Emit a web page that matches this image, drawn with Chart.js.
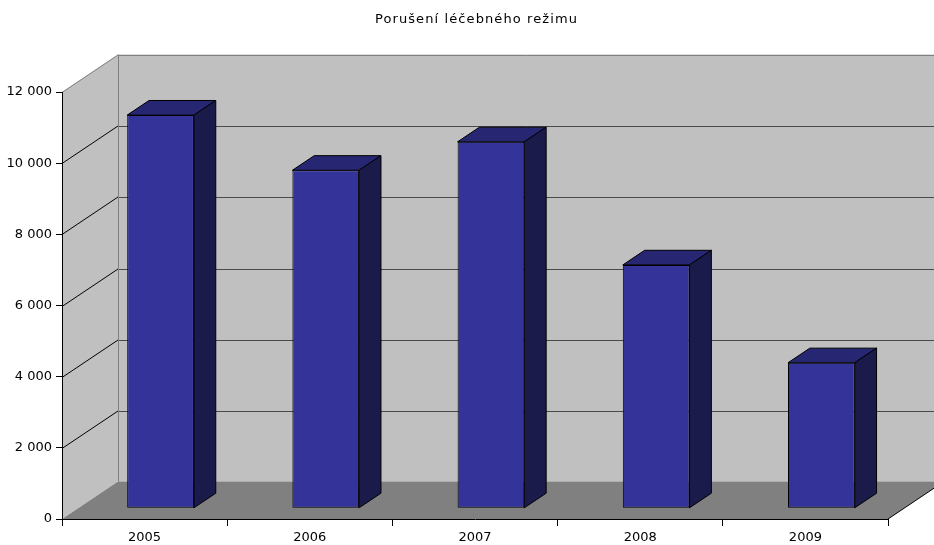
<!DOCTYPE html>
<html><head><meta charset="utf-8">
<script src="https://cdn.jsdelivr.net/npm/chart.js@4.4.1/dist/chart.umd.min.js"></script>
<style>html,body{margin:0;padding:0;background:#fff}#wrap{width:934px;height:545px;position:relative}</style>
</head><body><div id="wrap"><canvas id="c"></canvas></div>
<script>
const categories = ['2005', '2006', '2007', '2008', '2009'];
const values = [11050, 9500, 10300, 6840, 4090];
const yMin = 0;
const yMax = 12000;
const yStep = 2000;
const chartTitle = 'Porušení léčebného režimu';

// 3D look (pixel depth of the box and bar placement inside it)
const DEPTH_X = 56, DEPTH_Y = -37.5;
const BAR_FRONT = 0.285, BAR_DEPTH = 0.39;

function fmt(v) { return String(v).replace(/\B(?=(\d{3})+(?!\d))/g, ' '); }

const box3d = {
  id: 'box3d',
  afterLayout(chart) {
    const t = chart.titleBlock;
    if (t) {
      t.left = 33; t.right = 920;
      if (!t._spaced) {
        const orig = t.draw;
        t.draw = function (area) {
          const c = this.ctx;
          c.save();
          c.letterSpacing = '1.1px';
          orig.call(this, area);
          c.restore();
        };
        t._spaced = true;
      }
    }
  },
  beforeDraw(chart) {
    const ctx = chart.ctx, a = chart.chartArea, y = chart.scales.y;
    const dx = DEPTH_X, dy = DEPTH_Y;
    const y0 = y.getPixelForValue(y.min), yT = y.getPixelForValue(y.max);
    ctx.save();
    // back wall
    ctx.fillStyle = '#c0c0c0';
    ctx.fillRect(a.left + dx, yT + dy, a.right - a.left + 20, y0 - yT);
    // side wall
    ctx.beginPath();
    ctx.moveTo(a.left, yT); ctx.lineTo(a.left + dx, yT + dy);
    ctx.lineTo(a.left + dx, y0 + dy); ctx.lineTo(a.left, y0); ctx.closePath();
    ctx.fill();
    // floor
    ctx.fillStyle = '#808080';
    ctx.beginPath();
    ctx.moveTo(a.left, y0); ctx.lineTo(a.left + dx, y0 + dy);
    ctx.lineTo(a.right + dx, y0 + dy); ctx.lineTo(a.right, y0); ctx.closePath();
    ctx.fill();
    // grid lines
    ctx.lineWidth = 1;
    y.ticks.forEach(t => {
      if (t.value === y.min) return;
      const py = Math.round(y.getPixelForValue(t.value)) + 0.5;
      const top = t.value === y.max;
      ctx.strokeStyle = top ? '#808080' : '#000';
      ctx.beginPath(); ctx.moveTo(a.left, py); ctx.lineTo(a.left + dx, py + dy); ctx.stroke();
      ctx.strokeStyle = top ? '#808080' : '#4a4a4a';
      ctx.beginPath(); ctx.moveTo(a.left + dx, Math.round(py + dy) + 0.5); ctx.lineTo(a.right + dx + 20, Math.round(py + dy) + 0.5); ctx.stroke();
    });
    // back wall left edge
    ctx.strokeStyle = '#808080';
    const bx = Math.round(a.left + dx) + 0.5;
    ctx.beginPath(); ctx.moveTo(bx, yT + dy); ctx.lineTo(bx, y0 + dy); ctx.stroke();
    // floor right edge
    ctx.strokeStyle = '#000';
    ctx.beginPath(); ctx.moveTo(a.right, y0); ctx.lineTo(a.right + dx, y0 + dy); ctx.stroke();
    ctx.restore();
  },
  beforeDatasetsDraw(chart) {
    chart.ctx.save();
    chart.ctx.translate(DEPTH_X * BAR_FRONT, DEPTH_Y * BAR_FRONT);
  },
  afterDatasetsDraw(chart) {
    const ctx = chart.ctx;
    const bdx = DEPTH_X * BAR_DEPTH, bdy = DEPTH_Y * BAR_DEPTH;
    const meta = chart.getDatasetMeta(0);
    ctx.lineWidth = 1;
    ctx.strokeStyle = '#000';
    ctx.lineJoin = 'miter';
    meta.data.forEach(bar => {
      const p = bar.getProps(['x', 'y', 'base', 'width'], true);
      const l = p.x - p.width / 2, r = p.x + p.width / 2;
      // top face
      ctx.fillStyle = '#262672';
      ctx.beginPath();
      ctx.moveTo(l, p.y); ctx.lineTo(l + bdx, p.y + bdy); ctx.lineTo(r + bdx, p.y + bdy); ctx.lineTo(r, p.y); ctx.closePath();
      ctx.fill(); ctx.stroke();
      // side face
      ctx.fillStyle = '#1b1b4b';
      ctx.beginPath();
      ctx.moveTo(r, p.y); ctx.lineTo(r + bdx, p.y + bdy); ctx.lineTo(r + bdx, p.base + bdy); ctx.lineTo(r, p.base); ctx.closePath();
      ctx.fill(); ctx.stroke();
    });
    ctx.restore();
  }
};

Chart.defaults.font.family = '"DejaVu Sans", Verdana, sans-serif';
Chart.defaults.color = '#000';

new Chart(document.getElementById('c'), {
  type: 'bar',
  data: {
    labels: categories,
    datasets: [{
      data: values,
      backgroundColor: '#333399',
      borderColor: '#000',
      borderWidth: 1,
      borderSkipped: false,
      barPercentage: 0.404,
      categoryPercentage: 1
    }]
  },
  options: {
    responsive: true,
    maintainAspectRatio: false,
    animation: false,
    layout: { padding: { left: 0, right: 46, top: 0, bottom: 0 } },
    plugins: {
      legend: { display: false },
      tooltip: { enabled: false },
      title: {
        display: true,
        text: chartTitle,
        color: '#000',
        font: { size: 13, weight: 'normal' },
        padding: { top: 12, bottom: 64.4 }
      }
    },
    scales: {
      x: {
        offset: true,
        grid: { offset: true, drawOnChartArea: false, tickLength: 7, color: '#000' },
        border: { color: '#000' },
        ticks: { font: { size: 13 }, padding: 4, color: '#000' },
        afterFit(s) { s.height = 26; }
      },
      y: {
        min: yMin, max: yMax,
        grid: { drawOnChartArea: false, tickLength: 6, color: '#000' },
        border: { color: '#000' },
        ticks: { stepSize: yStep, font: { size: 13 }, padding: 4, color: '#000', callback: v => fmt(v) },
        afterFit(s) { s.width = 62; }
      }
    }
  },
  plugins: [box3d]
});
</script>
</body></html>
